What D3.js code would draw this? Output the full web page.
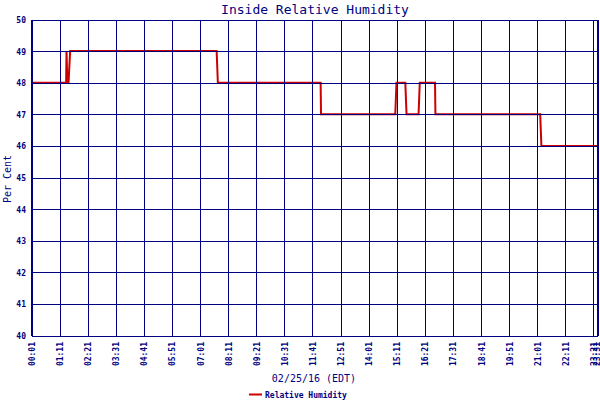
<!DOCTYPE html>
<html>
<head>
<meta charset="utf-8">
<script src="https://cdn.jsdelivr.net/npm/d3@7"></script>
<style>
  body { margin: 0; background: #fff; }
  svg { display: block; }
  .grid line { stroke: #000080; stroke-width: 1; shape-rendering: crispEdges; }
  .tick-y { font: bold 8px "DejaVu Sans Mono", monospace; fill: #000080; }
  .tick-x { font: bold 8px "DejaVu Sans Mono", monospace; fill: #000080; }
</style>
</head>
<body>
<svg width="600" height="400"></svg>
<script>
// tick labels along the time axis (every 70 min, plus the end)
var xTicks = ["00:01","01:11","02:21","03:31","04:41","05:51","07:01","08:11","09:21","10:31",
              "11:41","12:51","14:01","15:11","16:21","17:31","18:41","19:51","21:01","22:11",
              "23:21","23:31"];
var yTicks = [40, 41, 42, 43, 44, 45, 46, 47, 48, 49, 50];

// readings: time and relative humidity (%)
var times  = ["00:01","01:26","01:27","01:29","01:32","01:36","07:41","07:44","12:00","12:01",
              "15:06","15:09","15:31","15:34","16:04","16:07","16:45","16:46","21:07","21:10","23:31"];
var values = [48, 48, 49, 48, 48, 49, 49, 48, 48, 47,
              47, 48, 48, 47, 47, 48, 48, 47, 47, 46, 46];

function toMin(s) {
  var p = s.split(":").map(Number);
  return p[0] * 60 + p[1] - 1;
}

var data = times.map((t, i) => [toMin(t), values[i]]);

var svg = d3.select("svg");
var plotL = 32, plotR = 598, plotT = 20, plotB = 336;

var x = d3.scaleLinear()
          .domain([0, toMin(xTicks[xTicks.length - 1])])
          .range([plotL, plotR]);
var y = d3.scaleLinear()
          .domain([40, 50])
          .range([plotB, plotT]);

// title
svg.append("text")
  .attr("x", 315).attr("y", 14)
  .attr("text-anchor", "middle")
  .style("font", "13px 'DejaVu Sans Mono', monospace")
  .style("fill", "#000080")
  .text("Inside Relative Humidity");

// data line (drawn first, grid sits on top)
svg.append("path")
  .datum(data)
  .attr("fill", "none")
  .attr("stroke", "#cc0000")
  .attr("stroke-width", 2)
  .attr("d", d3.line().x(d => x(d[0])).y(d => y(d[1]) - 0.5));

var g = svg.append("g").attr("class", "grid");

g.selectAll(".hl")
  .data(yTicks)
  .enter().append("line")
    .attr("x1", plotL).attr("x2", plotR)
    .attr("y1", d => y(d)).attr("y2", d => y(d));

g.selectAll(".vl")
  .data(xTicks.slice(0, -1))
  .enter().append("line")
    .attr("x1", d => x(toMin(d))).attr("x2", d => x(toMin(d)))
    .attr("y1", plotT).attr("y2", plotB);

// thick left and right edges
g.append("line").attr("x1", plotL).attr("x2", plotL).attr("y1", plotT).attr("y2", plotB)
  .style("stroke-width", 2);
g.append("line").attr("x1", plotR).attr("x2", plotR).attr("y1", plotT).attr("y2", plotB)
  .style("stroke-width", 2);

// y tick labels
svg.selectAll(".tick-y")
  .data(yTicks)
  .enter().append("text")
    .attr("class", "tick-y")
    .attr("x", 26)
    .attr("y", d => y(d) + 3)
    .attr("text-anchor", "end")
    .text(d => d);

// x tick labels, rotated (kept inside the right edge)
svg.selectAll(".tick-x")
  .data(xTicks)
  .enter().append("text")
    .attr("class", "tick-x")
    .attr("transform", d => "translate(" + Math.min(x(toMin(d)) + 3, 599.5) + ",342) rotate(-90)")
    .attr("text-anchor", "end")
    .text(d => d);

// axis titles
svg.append("text")
  .attr("transform", "translate(11,179) rotate(-90)")
  .attr("text-anchor", "middle")
  .style("font", "10px 'DejaVu Sans Mono', monospace")
  .style("fill", "#000080")
  .text("Per Cent");

svg.append("text")
  .attr("x", 314).attr("y", 382)
  .attr("text-anchor", "middle")
  .style("font", "10px 'DejaVu Sans Mono', monospace")
  .style("fill", "#000080")
  .text("02/25/16 (EDT)");

// legend
svg.append("line")
  .attr("x1", 249).attr("x2", 262)
  .attr("y1", 394.5).attr("y2", 394.5)
  .attr("stroke", "#cc0000").attr("stroke-width", 2);
svg.append("text")
  .attr("x", 265).attr("y", 398)
  .style("font", "bold 8px 'DejaVu Sans Mono', monospace")
  .style("fill", "#000080")
  .text("Relative Humidity");
</script>
</body>
</html>
